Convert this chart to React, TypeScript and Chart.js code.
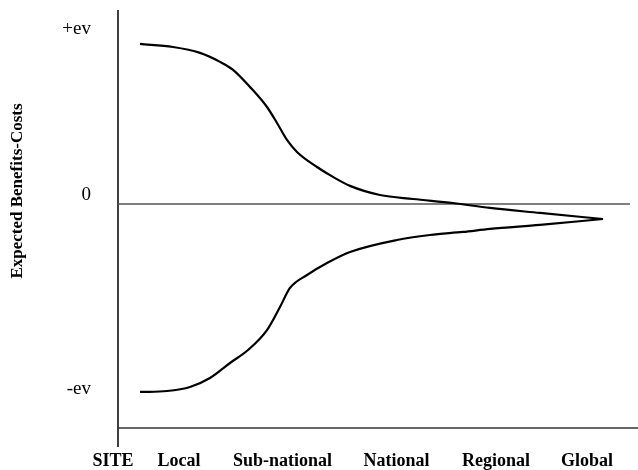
import React, { useEffect, useRef } from "react";
import { Chart, registerables } from "chart.js";

Chart.register(...registerables);

// Spatial scale position (0 = SITE axis, 100 = right edge), value in units of "ev"
const upperX = [4.23, 10.58, 15.77, 19.62, 22.12, 25.38, 28.65, 30.58, 32.5, 34.42, 38.27, 41.35, 44.62, 50.38, 56.73, 64.42, 71.54, 81.15, 93.27];
const upperY = [1.0, 0.981, 0.944, 0.888, 0.838, 0.731, 0.606, 0.506, 0.4, 0.325, 0.231, 0.169, 0.113, 0.056, 0.031, 0.006, -0.025, -0.056, -0.094];

const lowerX = [4.23, 9.42, 13.85, 17.69, 21.54, 25.0, 28.65, 31.15, 33.08, 36.35, 40.19, 44.62, 53.65, 60.0, 66.35, 71.54, 81.15, 93.27];
const lowerY = [-1.175, -1.169, -1.144, -1.088, -0.994, -0.913, -0.788, -0.644, -0.525, -0.444, -0.369, -0.3, -0.225, -0.194, -0.175, -0.156, -0.131, -0.094];

const zeroLineX = [0, 98.46];
const zeroLineY = [0, 0];
const baseLineX = [0, 100];
const baseLineY = [-1.4, -1.4];
const axisLineX = [0, 0];
const axisLineY = [1.2125, -1.519];

const xTickValues = [-0.96, 11.73, 31.63, 53.56, 72.69, 90.19];
const xTickLabels = ["SITE", "Local", "Sub-national", "National", "Regional", "Global"];

const yTickValues = [1.094, 0.056, -1.156];
const yTickLabels = ["+ev", "0", "-ev"];

const yTitle = "Expected Benefits-Costs";

const pts = (xs: number[], ys: number[]) => xs.map((x, i) => ({ x, y: ys[i] }));

const SERIF = '"Liberation Serif", "Times New Roman", serif';

const yTitlePlugin = {
  id: "yTitlePlugin",
  afterDraw(chart: any) {
    const ctx = chart.ctx;
    ctx.save();
    ctx.translate(18, 191);
    ctx.rotate(-Math.PI / 2);
    ctx.font = `bold 17px ${SERIF}`;
    ctx.fillStyle = "#000";
    ctx.textAlign = "center";
    ctx.textBaseline = "middle";
    ctx.fillText(yTitle, 0, 0);
    ctx.restore();
  },
};

export default function App() {
  const ref = useRef<HTMLCanvasElement | null>(null);

  useEffect(() => {
    if (!ref.current) return;
    const lineBase = { pointRadius: 0, fill: false, borderCapStyle: "butt" as const };
    const chart = new Chart(ref.current, {
      type: "line",
      data: {
        datasets: [
          { ...lineBase, data: pts(upperX, upperY), borderColor: "#000", borderWidth: 2.2, cubicInterpolationMode: "monotone" },
          { ...lineBase, data: pts(lowerX, lowerY), borderColor: "#000", borderWidth: 2.2, cubicInterpolationMode: "monotone" },
          { ...lineBase, data: pts(zeroLineX, zeroLineY), borderColor: "#555", borderWidth: 1.4, tension: 0 },
          { ...lineBase, data: pts(baseLineX, baseLineY), borderColor: "#333", borderWidth: 1.4, tension: 0 },
          { ...lineBase, data: pts(axisLineX, axisLineY), borderColor: "#111", borderWidth: 1.6, tension: 0 },
        ],
      },
      options: {
        animation: false,
        responsive: true,
        maintainAspectRatio: false,
        layout: { padding: 0, autoPadding: false },
        plugins: { legend: { display: false }, tooltip: { enabled: false } },
        scales: {
          x: {
            type: "linear",
            min: -3.4615,
            max: 100,
            grid: { display: false, drawTicks: false },
            border: { display: false },
            afterBuildTicks: (scale: any) => {
              scale.ticks = xTickValues.map((v) => ({ value: v }));
            },
            afterFit: (scale: any) => {
              scale.height = 23;
            },
            ticks: {
              autoSkip: false,
              maxRotation: 0,
              padding: 7.5,
              color: "#000",
              font: { family: SERIF, size: 18, weight: "bold", lineHeight: 0.778 },
              callback: (_v: any, i: number) => xTickLabels[i],
            },
          },
          y: {
            type: "linear",
            min: -1.519,
            max: 1.2125,
            grid: { display: false, drawTicks: false },
            border: { display: false },
            afterBuildTicks: (scale: any) => {
              scale.ticks = yTickValues.map((v) => ({ value: v }));
            },
            afterFit: (scale: any) => {
              scale.width = 100;
            },
            ticks: {
              autoSkip: false,
              padding: 9,
              color: "#000",
              font: { family: SERIF, size: 19, lineHeight: 0.1 },
              callback: (_v: any, i: number) => yTickLabels[i],
            },
          },
        },
      },
      plugins: [yTitlePlugin],
    });
    return () => chart.destroy();
  }, []);

  return (
    <div style={{ position: "fixed", left: 0, top: 0, width: 638, height: 470, background: "#fff" }}>
      <canvas ref={ref} />
    </div>
  );
}
